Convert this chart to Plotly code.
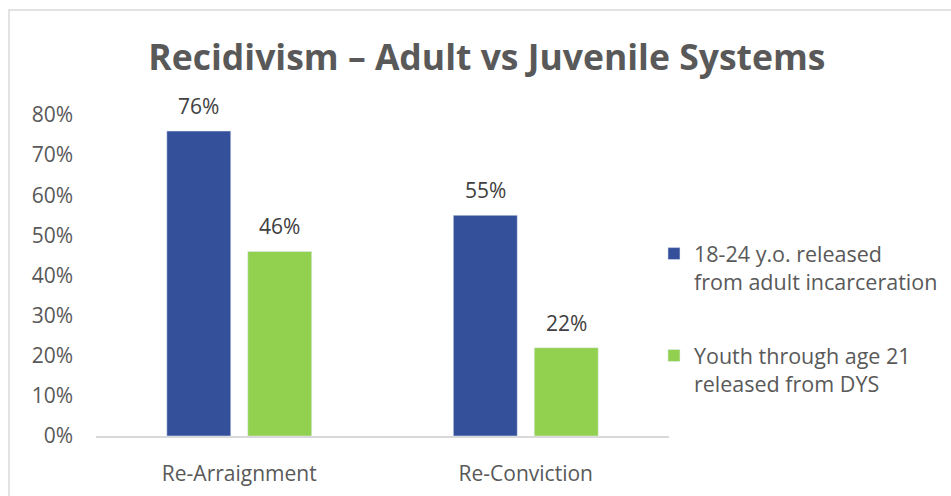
import plotly.graph_objects as go

categories = ["Re-Arraignment", "Re-Conviction"]
series_names = ["18-24 y.o. released<br>from adult incarceration", "Youth through age 21<br>released from DYS"]
adult_values = [0.76, 0.55]
youth_values = [0.46, 0.22]
colors = ["#34509A", "#92D050"]

FONT = "Open Sans"
fig = go.Figure()
annotations = []
all_vals = [adult_values, youth_values]
for i, (name, vals, col, grp) in enumerate(zip(series_names, all_vals, colors, ["a", "b"])):
    fig.add_trace(go.Bar(
        x=categories, y=vals, name=name, marker_color=col, legendgroup=grp,
    ))
    for c, v in zip(categories, vals):
        annotations.append(dict(x=c, y=v, xref="x", yref="y", text=f"{round(v*100)}%",
                                showarrow=False, yanchor="bottom", yshift=9,
                                xshift=(i - 0.5) * 81,
                                font=dict(size=21, color="#404040", family=FONT)))

fig.update_layout(
    width=951, height=496,
    margin=dict(l=96, r=0, t=115, b=60),
    paper_bgcolor="white", plot_bgcolor="white",
    font=dict(family=FONT, color="#595959", size=21),
    title=dict(text="<b>Recidivism – Adult vs Juvenile Systems</b>", x=0.512, xanchor="center",
               y=0.883, yanchor="middle", font=dict(size=35.5, color="#595959", family=FONT)),
    barmode="group", bargap=0.435, bargroupgap=0.21,
    legend=dict(x=0.6526, xanchor="left", y=0.632, yanchor="top",
                valign="top", font=dict(size=21.5, color="#595959"), tracegroupgap=43,
                itemwidth=30, bgcolor="rgba(0,0,0,0)"),
    xaxis=dict(domain=[0, 0.6702], showline=True, linecolor="#D9D9D9", linewidth=1.5, ticks="",
               ticklabelstandoff=18, automargin=False,
               tickfont=dict(size=21, color="#595959")),
    yaxis=dict(range=[0, 0.8], dtick=0.1, tickformat=".0%", showgrid=False,
               zeroline=False, showline=False, ticks="", ticklen=0,
               ticklabelstandoff=22, automargin=False,
               tickfont=dict(size=21, color="#595959")),
    annotations=annotations,
    shapes=[dict(type="rect", xref="paper", yref="paper", x0=-0.1018, x1=1.1, y0=-0.3, y1=1.327,
                 line=dict(color="#D9D9D9", width=1.5), fillcolor="rgba(0,0,0,0)", layer="below")],
)
fig.write_html("out.html")
